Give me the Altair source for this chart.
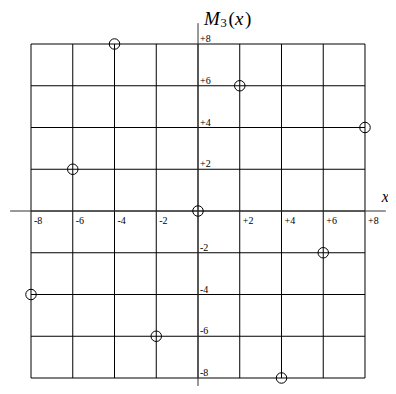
import altair as alt
import pandas as pd

# data
xs = [-8, -6, -4, -2, 0, 2, 4, 6, 8]
ys = [-4, 2, 8, -6, 0, 6, -8, -2, 4]
grid_vals = [-8, -6, -4, -2, 0, 2, 4, 6, 8]
tick_vals = [-8, -6, -4, -2, 2, 4, 6, 8]
tick_labels = ["-8", "-6", "-4", "-2", "+2", "+4", "+6", "+8"]
grid_lo, grid_hi = -8, 8
axis_lo, axis_hi = -9, 9
x_name = "x"
title_pieces = [("M", True, 19, 6, 2), ("3", False, 12.5, 22.5, 4), ("(", False, 19, 30.5, 2),
                ("x", True, 19, 37, 2), (")", False, 19, 47, 2)]

SERIF = "Liberation Serif"
xs_ = alt.Scale(domain=[-9.1018, 9.1018], nice=False, zero=False)
ys_ = alt.Scale(domain=[-8.3832, 9.7246], nice=False, zero=False)

def X(f):
    return alt.X(f, type="quantitative", scale=xs_, axis=None)

def Y(f):
    return alt.Y(f, type="quantitative", scale=ys_, axis=None)

grid_df = pd.DataFrame({"v": grid_vals, "lo": grid_lo, "hi": grid_hi})
vgrid = alt.Chart(grid_df).mark_rule(color="black", strokeWidth=1).encode(
    x=X("v"), y=Y("lo"), y2="hi")
hgrid = alt.Chart(grid_df).mark_rule(color="black", strokeWidth=1).encode(
    y=Y("v"), x=X("lo"), x2="hi")

axes_df = pd.DataFrame({"z": [0], "lo": [axis_lo], "hi": [axis_hi]})
xaxis = alt.Chart(axes_df).mark_rule(color="#333", strokeWidth=1).encode(
    y=Y("z"), x=X("lo"), x2="hi")
yaxis = alt.Chart(axes_df).mark_rule(color="#333", strokeWidth=1).encode(
    x=X("z"), y=Y("lo"), y2="hi")

pts = alt.Chart(pd.DataFrame({"x": xs, "y": ys})).mark_point(
    shape="circle", filled=False, color="black", strokeWidth=1, size=110, opacity=1
).encode(x=X("x"), y=Y("y"))

lab_df = pd.DataFrame({"v": tick_vals, "t": tick_labels, "z": 0})
xlabels = alt.Chart(lab_df).mark_text(
    align="left", baseline="alphabetic", dx=3, dy=13, font=SERIF, fontSize=10, color="black"
).encode(x=X("v"), y=Y("z"), text="t")
ylabels = alt.Chart(lab_df).mark_text(
    align="left", baseline="alphabetic", dx=2, dy=-2, font=SERIF, fontSize=10, color="black"
).encode(y=Y("v"), x=X("z"), text="t")

layers = [vgrid, hgrid, xaxis, yaxis, pts, xlabels, ylabels]

anchor_df = pd.DataFrame({"x": [0], "y": [axis_hi]})
for txt, ital, fs, dx, dy in title_pieces:
    layers.append(alt.Chart(anchor_df).mark_text(
        text=txt, align="left", baseline="alphabetic", dx=dx, dy=dy, font=SERIF,
        fontSize=fs, fontStyle="italic" if ital else "normal", color="black"
    ).encode(x=X("x"), y=Y("y")))

xname_df = pd.DataFrame({"x": [axis_hi], "y": [0]})
layers.append(alt.Chart(xname_df).mark_text(
    text=x_name, align="left", baseline="alphabetic", dx=-4, dy=-9, font=SERIF,
    fontSize=16, fontStyle="italic", color="black"
).encode(x=X("x"), y=Y("y")))

chart = alt.layer(*layers).properties(
    width=380, height=378, padding=0, autosize=alt.AutoSizeParams(type="none")
).configure_view(stroke=None)

chart.save("out.html", embed_options={"renderer": "svg", "actions": False})
